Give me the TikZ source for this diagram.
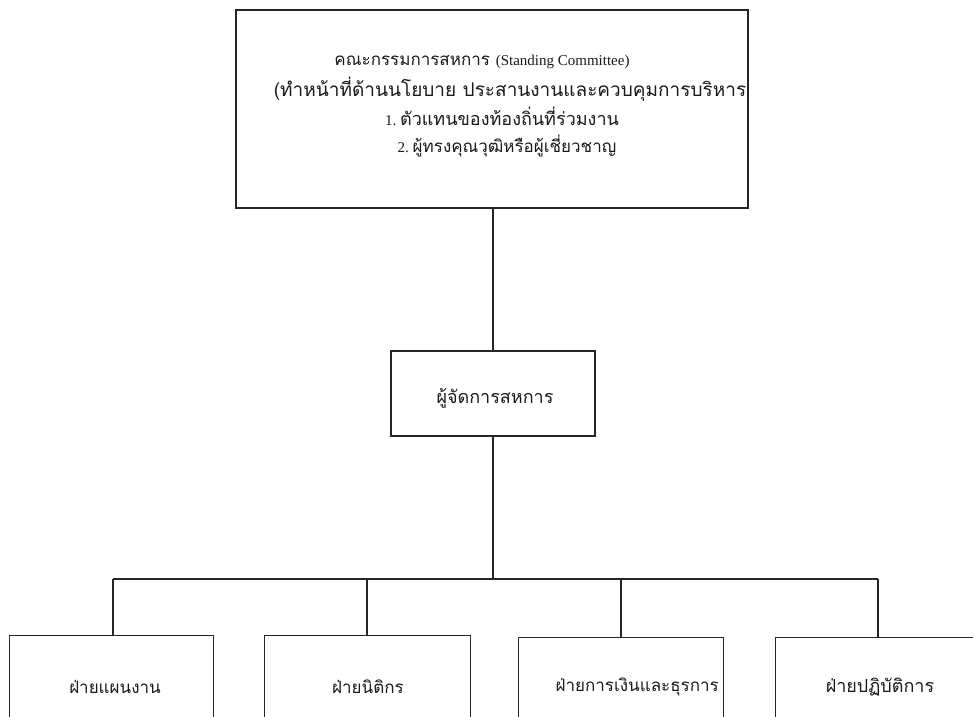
\documentclass[tikz,border=0pt]{standalone}
\usepackage{fontspec}
\setmainfont{Liberation Serif}
\newfontfamily\thai[Script=Thai]{Loma}
\newcommand{\lat}[1]{{\rmfamily\fontsize{15}{17}\selectfont #1}}
\begin{document}
\begin{tikzpicture}[x=1pt,y=-1pt,
  box/.style={draw=black!85,line width=1.2pt},
  conn/.style={draw=black!85,line width=1.2pt},
  lbl/.style={inner sep=0pt,anchor=center,text=black!90,font=\thai\fontsize{17}{19}\selectfont},
  big/.style={font=\thai\fontsize{18}{20}\selectfont}]
\useasboundingbox (0,0) rectangle (973,716);
\clip (0,0) rectangle (973,716);
% top box
\node[box,minimum width=512pt,minimum height=198pt,inner sep=0pt] (top) at (492,109) {};
\node[lbl] (t1) at (482,62) {คณะกรรมการสหการ \lat{(Standing Committee)}};
\node[lbl,font=\thai\fontsize{19}{21}\selectfont] (t2) at (510,89) {(ทำหน้าที่ด้านนโยบาย ประสานงานและควบคุมการบริหาร};
\node[lbl,big] (t3) at (502,116) {\lat{1.\ }ตัวแทนของท้องถิ่นที่ร่วมงาน};
\node[lbl] (t4) at (507,146) {\lat{2.\ }ผู้ทรงคุณวุฒิหรือผู้เชี่ยวชาญ};
% manager
\node[box,minimum width=204pt,minimum height=85pt,inner sep=0pt] (mgr) at (493,393.5) {};
\node[lbl,big] (m) at (495,398) {ผู้จัดการสหการ};
% bottom boxes
\node[box,minimum width=204pt,minimum height=120pt,inner sep=0pt,anchor=north west] (b1) at (9,635) {};
\node[box,minimum width=206pt,minimum height=120pt,inner sep=0pt,anchor=north west] (b2) at (264,635) {};
\node[box,minimum width=205pt,minimum height=120pt,inner sep=0pt,anchor=north west] (b3) at (518,637) {};
\node[box,minimum width=215pt,minimum height=120pt,inner sep=0pt,anchor=north west] (b4) at (775,637) {};
\node[lbl] (l1) at (115,687) {ฝ่ายแผนงาน};
\node[lbl,anchor=east] (l3) at (719,687) {ฝ่ายการเงินและธุรการ};
\node[lbl] (l2) at (368,687) {ฝ่ายนิติกร};
\node[lbl,big] (l4) at (880,687) {ฝ่ายปฏิบัติการ};
% connectors
\coordinate (hub) at (493,579);
\coordinate (hl) at (113,579);
\coordinate (hm1) at (367,579);
\coordinate (hm2) at (621,579);
\coordinate (hr) at (878,579);
\draw[conn] (top.south -| hub) -- (mgr.north -| hub);
\draw[conn] (mgr.south -| hub) -- (hub);
\draw[conn] (hl) -- (hr);
\draw[conn] (hl) -- (hl |- b1.north);
\draw[conn] (hm1) -- (hm1 |- b2.north);
\draw[conn] (hm2) -- (hm2 |- b3.north);
\draw[conn] (hr) -- (hr |- b4.north);
\end{tikzpicture}
\end{document}
